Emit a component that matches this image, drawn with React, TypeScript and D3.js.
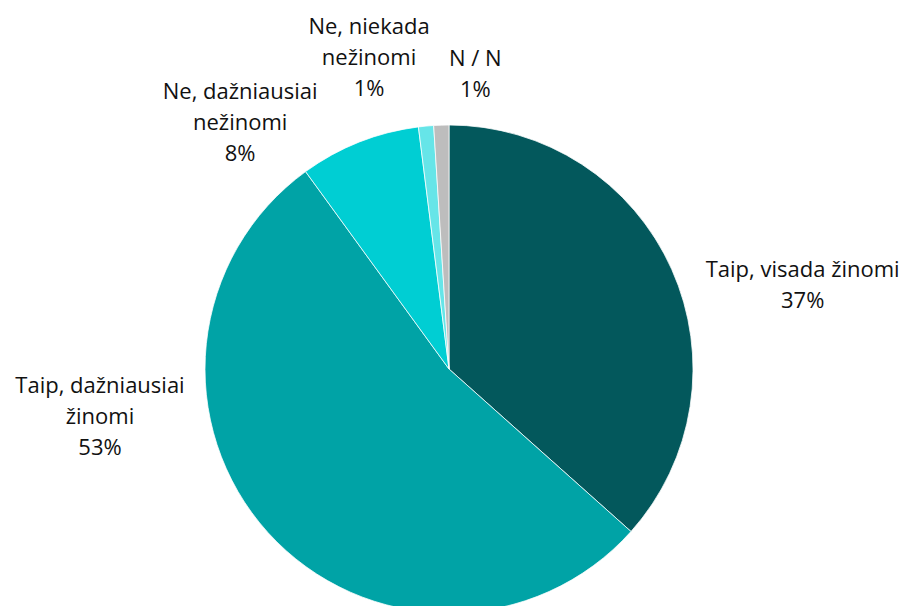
import React from "react";
import * as d3 from "d3";

const categories = [
  "Taip, visada žinomi",
  "Taip, dažniausiai žinomi",
  "Ne, dažniausiai nežinomi",
  "Ne, niekada nežinomi",
  "N / N",
];
const values = [36.6, 53.4, 8, 1, 1];
const valueLabels = ["37%", "53%", "8%", "1%", "1%"];
const labelLines = [
  ["Taip, visada žinomi", "37%"],
  ["Taip, dažniausiai", "žinomi", "53%"],
  ["Ne, dažniausiai", "nežinomi", "8%"],
  ["Ne, niekada", "nežinomi", "1%"],
  ["N / N", "1%"],
];
const colors = ["#03585C", "#00A3A6", "#00CED3", "#66E5E8", "#BDBDBD"];

// layout (offsets of label-block centre from the arc's outer mid point)
const labelOffsets: [number, number][] = [
  [131, 14],
  [-168, -118],
  [-119, -21],
  [-57, -70],
  [34, -53],
];

const W = 908;
const H = 606;
const cx = 449;
const cy = 369;
const R = 244;
const lineH = 31;

export default function App() {
  const data = categories.map((c, i) => ({ c, v: values[i], i }));
  const pie = d3
    .pie<any>()
    .sort(null)
    .value((d: any) => d.v)
    .startAngle(0)
    .endAngle(2 * Math.PI);
  const arcs = pie(data);
  const arc = d3.arc<any>().innerRadius(0).outerRadius(R);

  return (
    <svg
      width={W}
      height={H}
      style={{ position: "absolute", left: 0, top: 0, background: "#fff" }}
      fontFamily="Open Sans, sans-serif"
    >
      <g transform={`translate(${cx},${cy})`}>
        {arcs.map((a, i) => (
          <path
            key={i}
            d={arc(a) as string}
            fill={colors[i]}
            stroke="#fff"
            strokeWidth={0.75}
          />
        ))}
      </g>
      {arcs.map((a, i) => {
        const mid = (a.startAngle + a.endAngle) / 2;
        const px = cx + R * Math.sin(mid) + labelOffsets[i][0];
        const py = cy - R * Math.cos(mid) + labelOffsets[i][1];
        const lines = labelLines[i];
        const top = py - ((lines.length - 1) * lineH) / 2;
        return (
          <text key={i} textAnchor="middle" fontSize={22} fill="#111">
            {lines.map((l, j) => (
              <tspan key={j} x={px} y={top + j * lineH} dominantBaseline="central">
                {l}
              </tspan>
            ))}
          </text>
        );
      })}
    </svg>
  );
}
